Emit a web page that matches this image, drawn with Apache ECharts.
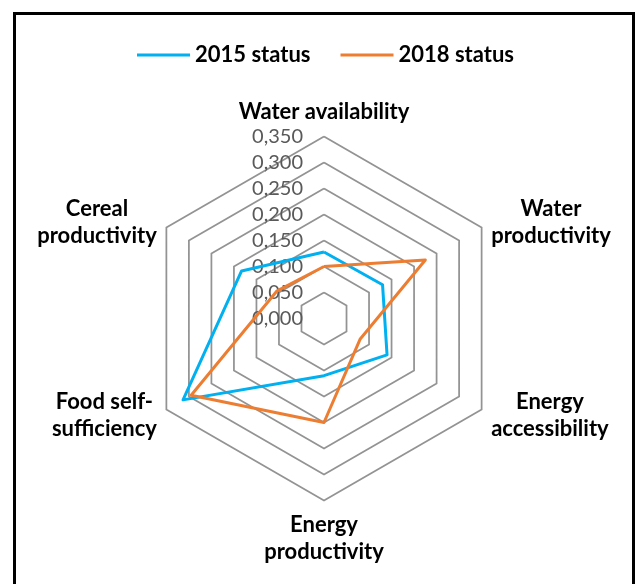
<!DOCTYPE html>
<html>
<head>
<meta charset="utf-8">
<script src="https://cdn.jsdelivr.net/npm/echarts@6/dist/echarts.min.js"></script>
<style>
  html, body { margin: 0; padding: 0; background: #fff; }
  #frame {
    position: absolute; left: 13px; top: 12px;
    width: 622px; height: 640px;
    border: 3px solid #000; box-sizing: border-box;
  }
  #chart { position: absolute; left: 0; top: 0; width: 636px; height: 584px; }
</style>
</head>
<body>
<div id="frame"></div>
<div id="chart"></div>
<script>
// axes in clockwise order starting at the top (as in the Excel original)
const categories = [
  'Water availability',
  'Water\nproductivity',
  'Energy\naccessibility',
  'Energy\nproductivity',
  'Food self-\nsufficiency',
  'Cereal\nproductivity'
];
const status2015 = [0.128, 0.130, 0.140, 0.110, 0.313, 0.183];
const status2018 = [0.100, 0.225, 0.080, 0.200, 0.295, 0.105];
const seriesNames = ['2015 status', '2018 status'];
const axisMin = 0;
const axisMax = 0.35;
const axisSplits = 7;

// echarts places radar axes counter-clockwise, so flip the order
const order = [0, 5, 4, 3, 2, 1];
const pick = arr => order.map(i => arr[i]);

const FONT = 'Lato';
const chart = echarts.init(document.getElementById('chart'), null, { renderer: 'canvas' });

const option = {
  animation: false,
  legend: {
    top: 39,
    left: 132,
    icon: 'rect',
    itemWidth: 53,
    itemHeight: 3,
    itemGap: 30,
    textStyle: { fontFamily: FONT, fontWeight: 'bold', fontSize: 22, color: '#000' },
    data: seriesNames
  },
  radar: {
    center: [324, 318.5],
    radius: 182,
    shape: 'polygon',
    splitNumber: axisSplits,
    axisNameGap: 11,
    indicator: pick(categories).map((name, i) => ({
      name: name,
      min: axisMin,
      max: axisMax,
      axisLabel: { show: i === 0 }
    })),
    axisName: {
      color: '#000',
      formatter: name => name.split('\n').map(l => '{c|' + l + '}').join('\n'),
      rich: {
        c: { align: 'center', fontFamily: FONT, fontWeight: 'bold', fontSize: 22, lineHeight: 27, color: '#000' }
      }
    },
    axisLine: { show: false },
    axisTick: { show: false },
    axisLabel: {
      show: true,
      fontFamily: FONT,
      fontSize: 20,
      color: '#595959',
      margin: 21,
      align: 'right',
      formatter: v => v.toFixed(3).replace('.', ',')
    },
    splitLine: { lineStyle: { color: '#939393', width: 1.75 } },
    splitArea: { show: false }
  },
  series: [{
    type: 'radar',
    symbol: 'none',
    z: 2,
    data: [
      { name: seriesNames[0], value: pick(status2015),
        lineStyle: { color: '#00b0f0', width: 3 }, itemStyle: { color: '#00b0f0' } },
      { name: seriesNames[1], value: pick(status2018),
        lineStyle: { color: '#ed7d31', width: 3 }, itemStyle: { color: '#ed7d31' } }
    ]
  }]
};

chart.setOption(option);
</script>
</body>
</html>
